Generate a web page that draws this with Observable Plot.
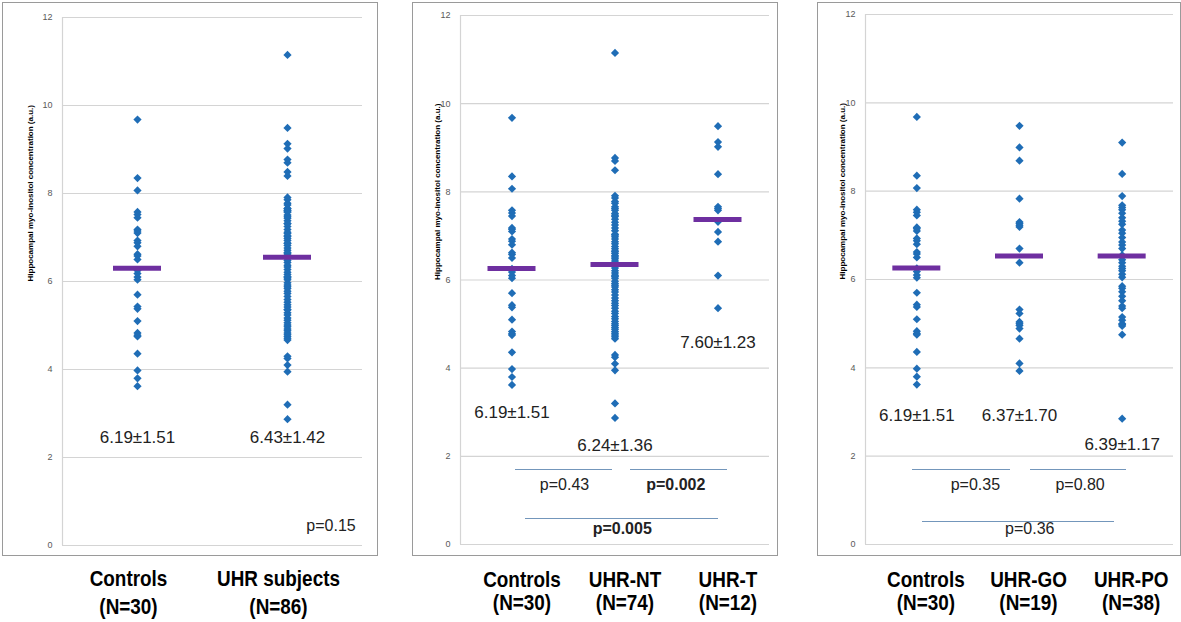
<!DOCTYPE html>
<html><head><meta charset="utf-8">
<script src="https://cdn.jsdelivr.net/npm/d3@7"></script>
<script src="https://cdn.jsdelivr.net/npm/@observablehq/plot@0.6"></script>
<style>
body{margin:0;background:#fff;}
#root{position:relative;width:1181px;height:622px;overflow:hidden;}
.box{position:absolute;border:1px solid #9a9a9a;box-sizing:border-box;}
.panel{position:absolute;top:0;}
</style></head><body><div id="root"></div>
<script>
// ---- data ----
const controls = [9.68, 8.35, 8.07, 7.58, 7.52, 7.45, 7.18, 7.15, 7.10, 6.93, 6.88, 6.80, 6.62, 6.58, 6.50,
  6.25, 6.18, 6.10, 6.04, 5.70, 5.43, 5.38, 5.10, 4.83, 4.78, 4.75, 4.36, 3.98, 3.80, 3.62];
const uhrNT = [11.15, 8.77, 8.70, 8.49,
  7.91, 7.86, 7.78, 7.74, 7.66, 7.62, 7.58, 7.51, 7.44, 7.38,
  7.31, 7.25, 7.18, 7.12, 7.04, 6.98, 6.93, 6.87, 6.82, 6.76,
  6.71, 6.66, 6.60, 6.55, 6.48, 6.43, 6.37, 6.33, 6.27, 6.21,
  6.16, 6.11, 6.04, 5.97, 5.92, 5.84, 5.78, 5.73, 5.66, 5.59,
  5.53, 5.47, 5.42, 5.36, 5.29, 5.24, 5.17, 5.12, 5.06, 5.01,
  4.97, 4.92, 4.88, 4.83, 4.79, 4.75, 4.71, 4.67, 6.52, 6.64,
  7.02, 7.47, 5.88, 6.08,
  4.30, 4.25, 4.10, 3.95, 3.20, 2.87];
const uhrT = [9.49, 9.13, 9.02, 8.40, 7.66, 7.62, 7.58, 7.32, 7.09, 6.87, 6.10, 5.36];
const uhrGO = [9.48, 8.99, 8.69, 7.83, 7.30, 7.27, 7.23, 7.19, 6.70, 6.38, 5.32, 5.23, 5.04, 5.00, 4.96, 4.89, 4.66, 4.10, 3.93];
const uhrPO = [9.10, 8.39, 7.89, 7.68, 7.63, 7.58, 7.50, 7.40, 7.32, 7.25, 7.12, 7.05, 6.95, 6.85, 6.78, 6.70,
  6.55, 6.45, 6.38, 6.30, 6.25, 6.20, 6.12, 6.05, 5.85, 5.80, 5.72, 5.62, 5.52, 5.40, 5.35, 5.15, 5.08, 5.00,
  4.98, 4.95, 4.75, 2.85];
const uhrAll = uhrNT.concat(uhrT);

const yTicks = [0, 2, 4, 6, 8, 10, 12];
const yLabel = "Hippocampal myo-inositol concentration (a.u.)";

const groups1 = ["Controls", "UHR subjects"];
const n1 = [30, 86];
const means1 = [6.30, 6.55];
const stats1 = ["6.19±1.51", "6.43±1.42"];

const groups2 = ["Controls", "UHR-NT", "UHR-T"];
const n2 = [30, 74, 12];
const means2 = [6.26, 6.35, 7.37];
const stats2 = ["6.19±1.51", "6.24±1.36", "7.60±1.23"];

const groups3 = ["Controls", "UHR-GO", "UHR-PO"];
const n3 = [30, 19, 38];
const means3 = [6.26, 6.53, 6.53];
const stats3 = ["6.19±1.51", "6.37±1.70", "6.39±1.17"];

const pvals1 = ["p=0.15"];
const pvals2 = ["p=0.43", "p=0.002", "p=0.005"];
const pvals3 = ["p=0.35", "p=0.80", "p=0.36"];

// ---- annotation placement ----
const annot = [
  {statY: [2.45, 2.45], lines: [], ptext: [{x: 1.29, y: 0.45, bold: false}]},
  {statY: [3.0, 2.25, 4.58],
   lines: [{x1: 0.03, x2: 0.98, y: 1.70}, {x1: 1.15, x2: 2.09, y: 1.70}, {x1: 0.13, x2: 2.0, y: 0.59}],
   ptext: [{x: 0.51, y: 1.36, bold: false}, {x: 1.59, y: 1.36, bold: true}, {x: 1.07, y: 0.36, bold: true}]},
  {statY: [2.93, 2.93, 2.27],
   lines: [{x1: -0.04, x2: 0.91, y: 1.70}, {x1: 1.11, x2: 2.04, y: 1.70}, {x1: 0.06, x2: 1.93, y: 0.52}],
   ptext: [{x: 0.57, y: 1.36, bold: false}, {x: 1.59, y: 1.36, bold: false}, {x: 1.10, y: 0.36, bold: false}]}
];

const layouts = [
  {left: 2, width: 376, mL: 60, mR: 16, mT: 17, mB: 77, ylab: 32, labDx: -9, lh: 1.27, pad: 21},
  {left: 412, width: 366, mL: 48, mR: 9, mT: 15, mB: 78, ylab: 23, labDx: 10, lh: 1.09, pad: 25},
  {left: 817, width: 364, mL: 48, mR: 8, mT: 14, mB: 78, ylab: 23, labDx: 9, lh: 1.09, pad: 25}
];

const specs = [
  {groups: groups1, ns: n1, series: [controls, uhrAll], means: means1, stats: stats1, pvals: pvals1},
  {groups: groups2, ns: n2, series: [controls, uhrNT, uhrT], means: means2, stats: stats2, pvals: pvals2},
  {groups: groups3, ns: n3, series: [controls, uhrGO, uhrPO], means: means3, stats: stats3, pvals: pvals3}
];

const root = document.getElementById("root");
const blue = "#1f6db6", purple = "#6e2fa0", lineBlue = "#7396bb";

specs.forEach((spec, k) => {
  const L = layouts[k], A = annot[k];
  const n = spec.groups.length;
  const pts = spec.series.flatMap((vals, i) => vals.map(v => ({i, v})));
  const pxPerUnit = (L.width - L.mL - L.mR) / n;
  const half = 24 / pxPerUnit;
  const statData = spec.stats.map((s, i) => ({i, y: A.statY[i], s}));
  const pData = spec.pvals.map((s, j) => ({...A.ptext[j], s}));

  const box = document.createElement("div");
  box.className = "box";
  box.style.left = L.left + "px"; box.style.top = "2px";
  box.style.width = L.width + "px"; box.style.height = "554px";
  root.appendChild(box);

  const chart = Plot.plot({
    width: L.width, height: 622,
    marginLeft: L.mL, marginRight: L.mR, marginTop: L.mT, marginBottom: L.mB,
    style: {fontFamily: "'Liberation Sans', Arial, sans-serif", background: "transparent", overflow: "visible"},
    x: {domain: [-0.5, n - 0.5]},
    y: {domain: [0, 12]},
    marks: [
      Plot.gridY(yTicks, {stroke: "#d4d4d4", strokeOpacity: 1, strokeWidth: 1.2}),
      Plot.ruleX([-0.5], {stroke: "#d4d4d4", strokeWidth: 1.2}),
      Plot.axisY(yTicks, {tickSize: 0, tickPadding: 10, fontSize: 9, fill: "#595959", label: null}),
      Plot.axisX(d3.range(n), {
        tickSize: 0, tickPadding: L.pad, label: null, fontSize: 22, fontWeight: "bold", fill: "#000",
        fontFamily: "'Liberation Sans', Arial, sans-serif",
        lineHeight: L.lh, dx: L.labDx,
        tickFormat: i => `${spec.groups[i]}\n(N=${spec.ns[i]})`
      }),
      Plot.text([yLabel], {frameAnchor: "left", rotate: -90, dx: -L.ylab, fontSize: 8, fontWeight: "bold", fill: "#000"}),
      Plot.ruleY(A.lines, {x1: "x1", x2: "x2", y: "y", stroke: lineBlue, strokeWidth: 1, shapeRendering: "crispEdges"}),
      Plot.text(pData.filter(d => !d.bold), {x: "x", y: "y", text: "s", fontSize: 16, fill: "#222"}),
      Plot.text(pData.filter(d => d.bold), {x: "x", y: "y", text: "s", fontSize: 16, fill: "#222", fontWeight: "bold"}),
      Plot.dot(pts, {x: "i", y: "v", symbol: "diamond2", r: 3.7, fill: blue, stroke: "none"}),
      Plot.ruleY(spec.means, {x1: (d, i) => i - half, x2: (d, i) => i + half, y: d => d, stroke: purple, strokeWidth: 5}),
      Plot.text(statData, {x: "i", y: "y", text: "s", fontSize: 17, fill: "#222"})
    ]
  });
  chart.classList.add("panel");
  chart.style.left = L.left + "px";
  chart.style.position = "absolute";
  root.appendChild(chart);
  // condense the category labels horizontally (narrow bold face look)
  chart.querySelectorAll('g[aria-label="x-axis tick label"] text').forEach(t => {
    const tr = t.getAttribute("transform") || "";
    t.setAttribute("transform", tr + " scale(0.86,1)");
  });
});
</script></body></html>
